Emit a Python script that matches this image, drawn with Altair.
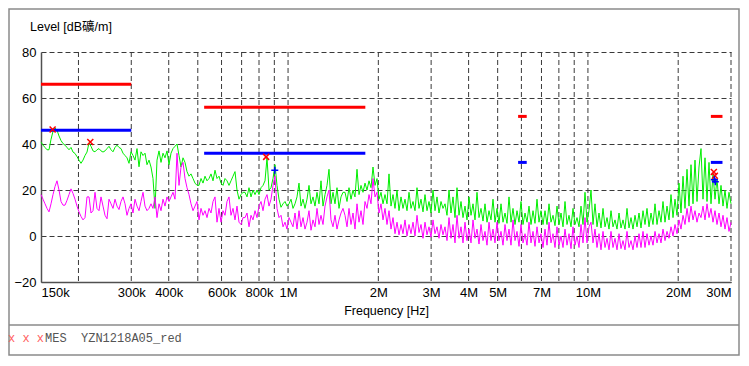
import altair as alt
import numpy as np
import pandas as pd

# ---------------- data ----------------
F_START, F_STOP = 150e3, 30e6  # sweep range, Hz

# peak trace (green), levels in dB, sweep points equally spaced in log f
green = [
    40.9, 39.5, 38.5, 37.5, 37.5, 42, 45.5, 47, 46, 43.5,
    41.5, 40.2, 39.5, 38.5, 37.5, 38.5, 36.5, 35.9, 34.5, 33,
    31.6, 33, 35, 36.5, 40.5, 39, 37, 36.6, 37.5, 38,
    37, 36.5, 37, 38, 39, 37.5, 36.6, 38.5, 39.5, 38.5,
    38, 36, 35, 34, 31.6, 36.6, 35, 33, 38, 30.1,
    36.6, 35,
    36, 31, 33, 30, 25, 12, 33, 37, 32, 36,
    34, 37, 31, 36, 38, 39, 40, 35, 30, 34,
    32, 28, 26, 27, 25, 23, 22, 22, 25, 23,
    26, 24, 25, 27, 24, 28.6, 25, 26, 23, 22,
    25, 24, 22, 24, 26, 28, 20, 16, 18, 19,
    19, 17, 21, 17, 20, 18, 20, 18, 21, 22,
    24, 34, 20, 21, 25, 31, 22, 16, 12.5, 14,
    15, 13, 14, 16, 12, 14, 17, 23, 13, 16,
    12, 16, 22, 14, 17, 13, 19, 14, 24, 13,
    18, 22, 29, 14, 19, 14, 21, 12, 17, 19,
    19, 15, 21, 16, 20, 17, 29, 18, 22, 19,
    23, 20, 24, 21, 30, 22, 25, 16, 19, 14,
    18, 14, 27, 13, 18, 12, 20, 11, 17, 12,
    16, 11, 19, 12, 15, 11, 21, 12, 16, 10.5,
    18, 11, 15, 10, 20, 11, 17, 10, 15, 12,
    14, 9, 20, 10, 17, 8, 21, 9, 15, 8,
    13, 7, 17, 9, 14, 7, 19, 8, 12, 6.5,
    14, 6, 11, 7, 16, 6, 12, 5.5, 14, 6,
    10, 5.5, 17, 6, 12, 5, 11, 6, 15, 5,
    10, 6, 13, 5, 11, 5.5, 16, 6, 11, 5,
    11, 5, 14, 6, 9, 4.5, 13, 5, 10, 4,
    15, 5, 9, 4, 12, 5, 8, 4, 13, 5,
    19, 6, 11, 20, 5, 14, 4, 10, 3.5, 12,
    4, 8, 3, 11, 4, 7, 3, 10, 3.5, 7,
    3, 12, 3.5, 8, 3, 9, 4, 10, 3.5, 11,
    5, 12, 4, 10, 5, 14, 5, 11, 6, 15,
    6, 13, 7, 18, 8, 16, 9, 23, 10, 26,
    12, 29, 13, 31, 14, 33, 15, 30, 38, 16,
    34, 15, 32, 14, 27, 16, 25, 14, 22, 13,
    20, 12, 19, 14,
]

# average trace (magenta)
magenta = [
    18, 16, 14, 12, 10.5, 14, 18, 21.5, 24, 20,
    15, 13.4, 13.4, 15.5, 18, 20.5, 18.5, 16, 13, 10.5,
    8.5, 7, 8, 17, 17, 10, 11, 19, 12, 11,
    17, 13, 9, 7.5, 16, 14, 12, 16, 13, 11.5,
    15, 17, 14, 9, 12, 14, 10, 16, 13, 11,
    15, 19,
    13, 11, 12, 14, 12, 17, 8, 14, 11, 16,
    13, 17, 15, 17, 19, 16, 36, 22, 30, 32,
    25, 21, 18, 14, 11, 13, 15, 7, 12, 9,
    11, 8, 12, 10, 15, 17, 6, 12, 6, 11,
    9, 15, 17, 9, 12, 7, 13, 6, 5, 8,
    8, 10, 4, 9, 7, 11, 8, 13, 15, 11,
    16, 18, 13, 16, 22, 26, 12, 8, 9, 4,
    6, 3, 8, 6, 4, 10, 3, 11, 4, 8,
    3, 6, 11, 2.5, 7, 4, 12, 5, 9, 5,
    13, 17, 20, 7, 4, 9, 3, 7, 10, 12,
    9, 4, 12, 5, 10, 3, 14, 6, 11, 5,
    15, 12, 18, 14, 25, 17, 19, 10, 14, 7,
    12, 5, 11, 3, 8, 1, 6, 0.5, 5, 1,
    7, 0, 5, 1, 6, 0, 9, 1.5, 5, -1,
    6, 0.5, 4, -0.5, 7, 1, 4, -1, 5, 0.5,
    4, -2, 8, -1, 5, -3, 9, -1, 4, -3,
    6, -2, 3, -3, 7, -1, 3, -3.5, 5, -2,
    2, -4, 6, -2, 3, -3, 6, -2, 2, -4,
    5, -2, 3, -4, 7, -2, 2, -4.5, 5, -3,
    1, -4, 6, -3, 2, -4.5, 4, -3, 1, -5,
    3, -4, 6, -3, 1, -5, 4, -4, 0, -5,
    3, -4, 1, -5.5, 4, -4, 0, -5, 5, -3,
    8, -3, 4, 6, -3, 3, -5, 1, -6, 2,
    -5, -1, -6, 2, -5, -1, -6, 1, -5.5, -2,
    -6, 2, -5, -2, -6, 0, -5, 1, -5, 2,
    -5, 1, -4, 0, -4, 2, -3, 1, -3, 3,
    -2, 2, -1, 4, 0, 5, 1, 7, 3, 9,
    5, 12, 6, 13, 7, 11, 6, 10, 8, 13,
    7, 14, 8, 12, 6, 11, 5, 10, 4, 9,
    3, 8, 2, 6,
]

# limit line segments
limit_start = [150e3, 525e3, 5.85e6, 25.7e6]
limit_stop = [300e3, 1.81e6, 6.25e6, 28.1e6]
qp_limit = [66, 56, 52, 52]
av_limit = [46, 36, 32, 32]

# final measurement markers
qp_marker_f = [164e3, 219e3, 845e3, 26.3e6, 26.5e6]
qp_marker_v = [46.3, 40.9, 34.4, 27.8, 26.2]
av_marker_f = [903e3, 26.4e6, 26.6e6]
av_marker_v = [28.6, 24.5, 23.6]

grid_f = [2e5, 3e5, 4e5, 5e5, 6e5, 7e5, 8e5, 9e5,
          1e6, 2e6, 3e6, 4e6, 5e6, 6e6, 7e6, 8e6, 9e6,
          1e7, 2e7, 3e7]
label_f = [150e3, 300e3, 400e3, 600e3, 800e3, 1e6, 2e6, 3e6, 4e6, 5e6,
           7e6, 1e7, 2e7, 3e7]
y_ticks = [-20, 0, 20, 40, 60, 80]

y_title = "Level [dB礦/m]"
x_title = "Frequency [Hz]"
legend_marks = "x\u00a0x\u00a0x"
legend_text = "MES\u00a0\u00a0YZN1218A05_red"

# ---------------- chart ----------------
FONT = "Liberation Sans, Arial, Noto Sans CJK SC, sans-serif"
MONO = "Liberation Mono, Courier New, monospace"
GRID = "#3a3a3a"
AX = "#505050"

xs = alt.Scale(type="log", domain=[F_START, F_STOP], nice=False)
ys = alt.Scale(domain=[-20, 80], nice=False)

XAXIS = alt.Axis(
    values=label_f,
    labelExpr="datum.value < 1e6 ? round(datum.value/1000) + 'k' : round(datum.value/1e6) + 'M'",
    grid=False, ticks=False, domain=True, domainColor=AX, domainWidth=1.5,
    labelFlush=True, labelFontSize=13, labelFont=FONT, labelColor="#000",
    labelPadding=4, labelOverlap=False,
    title=x_title, titleFont=FONT, titleFontSize=12.5, titleFontWeight="normal",
    titleColor="#000", titlePadding=5,
)
YAXIS = alt.Axis(
    values=y_ticks, grid=True, gridDash=[5, 3], gridColor=GRID, gridWidth=1,
    ticks=False, domain=True, domainColor=AX, domainWidth=1.5,
    labelFontSize=13, labelFont=FONT, labelColor="#000", labelPadding=5,
    title=None,
)


def X(field):
    return alt.X(field, scale=xs, axis=XAXIS)


def Y(field):
    return alt.Y(field, scale=ys, axis=YAXIS)


traces = pd.concat([
    pd.DataFrame({"f": np.geomspace(F_START, F_STOP, len(green)), "v": green, "s": "pk"}),
    pd.DataFrame({"f": np.geomspace(F_START, F_STOP, len(magenta)), "v": magenta, "s": "av"}),
])
limits = pd.DataFrame({
    "f1": limit_start * 2, "f2": limit_stop * 2,
    "v": qp_limit + av_limit,
    "c": ["qp"] * len(qp_limit) + ["av"] * len(av_limit),
})
qp_df = pd.DataFrame({"f": qp_marker_f, "v": qp_marker_v})
av_df = pd.DataFrame({"f": av_marker_f, "v": av_marker_v})
grid_df = pd.DataFrame({"f": grid_f})
one = pd.DataFrame({"a": [0]})

xgrid = alt.Chart(grid_df).mark_rule(strokeDash=[5, 3], color=GRID, strokeWidth=1).encode(
    x=X("f:Q"))

green_line = alt.Chart(traces[traces.s == "pk"]).mark_line(
    color="#00ee00", strokeWidth=1
).encode(x=X("f:Q"), y=Y("v:Q"))
mag_line = alt.Chart(traces[traces.s == "av"]).mark_line(
    color="#ff00ff", strokeWidth=1
).encode(x=X("f:Q"), y=Y("v:Q"))

limit_rules = alt.Chart(limits).mark_rule(strokeWidth=3, strokeCap="butt").encode(
    x=X("f1:Q"),
    x2="f2:Q",
    y=Y("v:Q"),
    color=alt.Color("c:N", scale=alt.Scale(domain=["qp", "av"], range=["#ff0000", "#0000ff"]), legend=None),
)

x_shape = "M-1,-1L1,1M-1,1L1,-1"
plus_shape = "M-1,0L1,0M0,-1L0,1"
qp_pts = alt.Chart(qp_df).mark_point(shape=x_shape, filled=False, size=36, strokeWidth=1.5, color="#ff0000", opacity=1).encode(
    x=X("f:Q"), y=Y("v:Q"))
av_pts = alt.Chart(av_df).mark_point(shape=plus_shape, filled=False, size=49, strokeWidth=1.5, color="#0000ff", opacity=1).encode(
    x=X("f:Q"), y=Y("v:Q"))

ytitle = alt.Chart(pd.DataFrame({"t": [y_title]})).mark_text(
    align="left", baseline="middle", font=FONT, fontSize=12.5, color="#000"
).encode(x=alt.value(-11), y=alt.value(-25), text="t:N")

frame = alt.Chart(one).mark_rect(fillOpacity=0, stroke="#8a8a8a", strokeWidth=1.5).encode(
    x=alt.value(-32), x2=alt.value(698), y=alt.value(-43), y2=alt.value(303))
sep = alt.Chart(one).mark_rule(color="#8a8a8a", strokeWidth=1.5).encode(
    x=alt.value(-32), x2=alt.value(698), y=alt.value(273))

leg1 = alt.Chart(pd.DataFrame({"t": [legend_marks]})).mark_text(
    align="left", baseline="middle", font=MONO, fontSize=12, color="#ff6060"
).encode(x=alt.value(-33), y=alt.value(286), text="t:N")
leg2 = alt.Chart(pd.DataFrame({"t": [legend_text]})).mark_text(
    align="left", baseline="middle", font=MONO, fontSize=12, color="#555555"
).encode(x=alt.value(4), y=alt.value(286), text="t:N")

chart = alt.layer(
    xgrid, green_line, mag_line, limit_rules, qp_pts, av_pts,
    ytitle, frame, sep, leg1, leg2,
).properties(
    width=690, height=230,
    padding={"left": 33, "top": 44, "right": 10, "bottom": 74},
    autosize=alt.AutoSizeParams(type="none"),
    background="#ffffff",
).configure_view(stroke=None)

chart.save("out.html", embed_options={"renderer": "svg", "actions": False})
